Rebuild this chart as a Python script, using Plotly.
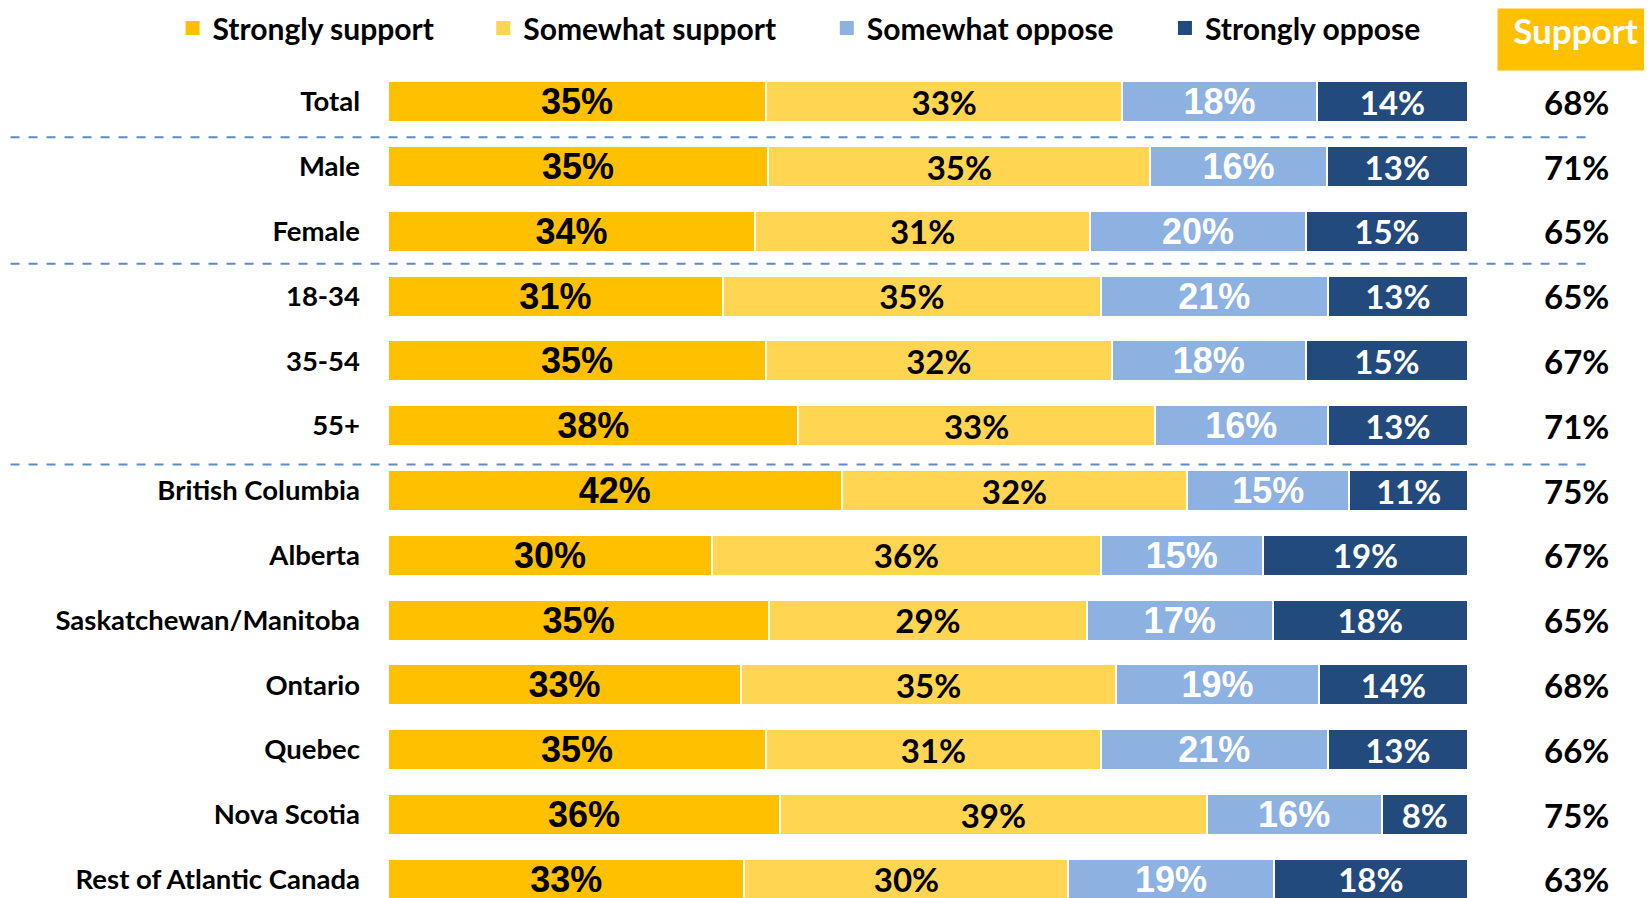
import plotly.graph_objects as go

# --- data -------------------------------------------------------------
groups = ["Total", "Male", "Female", "18-34", "35-54", "55+",
          "British Columbia", "Alberta", "Saskatchewan/Manitoba", "Ontario",
          "Quebec", "Nova Scotia", "Rest of Atlantic Canada"]

# printed labels
strongly_support = [35, 35, 34, 31, 35, 38, 42, 30, 35, 33, 35, 36, 33]
somewhat_support = [33, 35, 31, 35, 32, 33, 32, 36, 29, 35, 31, 39, 30]
somewhat_oppose = [18, 16, 20, 21, 18, 16, 15, 15, 17, 19, 21, 16, 19]
strongly_oppose = [14, 13, 15, 13, 15, 13, 11, 19, 18, 14, 13, 8, 18]
support_total = [68, 71, 65, 65, 67, 71, 75, 67, 65, 68, 66, 75, 63]

# segment lengths as drawn (unrounded)
strongly_support_len = [35, 35.2, 34, 31, 35, 38, 42, 30, 35.3, 32.7, 35, 36.3, 33]
somewhat_support_len = [33, 35.4, 31, 35, 32, 33, 32, 36, 29.4, 34.7, 31, 39.5, 30]
somewhat_oppose_len = [18, 16.3, 20, 21, 18, 16, 15, 15, 17.2, 18.8, 21, 16.2, 19]
strongly_oppose_len = [14, 13.1, 15, 13, 15, 13, 11, 19, 18.1, 13.8, 13, 8.0, 18]

# dashed separators sit between these rows
separators = [0.55, 2.5, 5.6]

rows = list(range(len(groups)))

LABEL_FONT = "Lato"
NUM_FONT = "Liberation Sans"

series = [
    ("Strongly support", strongly_support, strongly_support_len, "#FFC000", NUM_FONT, 36, "black", "legend", -0.1995),
    ("Somewhat support", somewhat_support, somewhat_support_len, "#FFD551", LABEL_FONT, 33, "black", "legend2", 0.0882),
    ("Somewhat oppose", somewhat_oppose, somewhat_oppose_len, "#8DB1E1", NUM_FONT, 36, "white", "legend3", 0.4063),
    ("Strongly oppose", strongly_oppose, strongly_oppose_len, "#224A7D", LABEL_FONT, 33, "white", "legend4", 0.7194),
]

fig = go.Figure()
legends = {}
for name, labels, lens, color, fam, size, tcolor, leg, lx in series:
    fig.add_trace(go.Bar(
        y=rows, x=lens, name=name, orientation="h", showlegend=False,
        marker=dict(color=color, line=dict(color="white", width=2)),
        text=[f"{v}%" for v in labels], textposition="inside",
        insidetextanchor="middle", constraintext="none",
        textfont=dict(family=fam, size=size, color=tcolor, weight="bold"),
        hoverinfo="skip",
    ))
    # legend entry with a plain square swatch
    fig.add_trace(go.Scatter(
        x=[None], y=[None], mode="markers", name=name, legend=leg,
        marker=dict(symbol="square", size=14, color=color),
        hoverinfo="skip",
    ))
    legends[leg] = dict(orientation="h", x=lx, xanchor="left", y=1.0566,
                        yanchor="middle", bgcolor="rgba(0,0,0,0)",
                        font=dict(family=LABEL_FONT, size=30, color="black", weight="bold"))

# net support column on the right
for i, v in enumerate(support_total):
    fig.add_annotation(x=1.1009, xref="paper", y=i, yref="y", text=f"{v}%",
                       showarrow=False, xanchor="center", yanchor="middle",
                       font=dict(family=LABEL_FONT, size=33, color="black", weight="bold"))

fig.add_annotation(x=1.0269, xref="paper", y=1.0806, yref="paper",
                   text="Support", showarrow=False, xanchor="left", yanchor="top",
                   width=155, height=61, bgcolor="#FFC000", borderpad=0,
                   align="center", valign="top",
                   font=dict(family=LABEL_FONT, size=35, color="white", weight="bold"))

# dashed separators between groups
for yy in separators:
    fig.add_shape(type="line", xref="paper", yref="y", x0=-0.3495, x1=1.1093,
                  y0=yy, y1=yy, line=dict(color="#5B8BC9", width=2, dash="dash"))

fig.update_layout(
    width=1652, height=898,
    barmode="stack", bargap=0.367,
    plot_bgcolor="white", paper_bgcolor="white",
    margin=dict(l=380, r=192, t=67, b=0, autoexpand=False),
    showlegend=True,
    xaxis=dict(range=[0, 100], visible=False, fixedrange=True),
    yaxis=dict(range=[12.412, -0.412], tickvals=rows, ticktext=groups,
               showgrid=False, zeroline=False, showline=False, ticks="",
               ticklabelstandoff=27,
               tickfont=dict(family=LABEL_FONT, size=27.5, color="black", weight="bold")),
    **legends,
)

fig.write_html("out.html")
